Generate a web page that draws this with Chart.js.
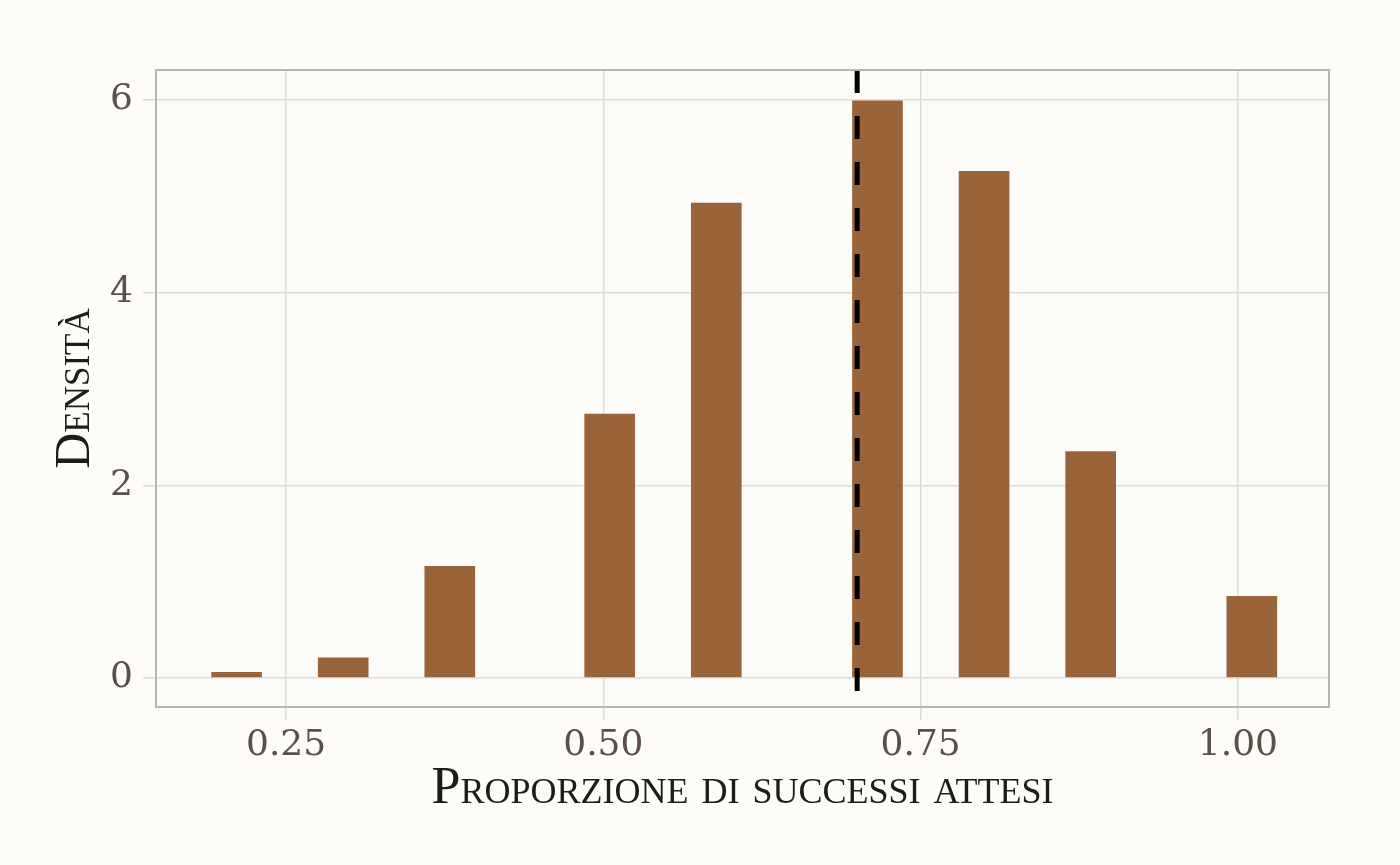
<!DOCTYPE html>
<html>
<head>
<meta charset="utf-8">
<script src="https://cdn.jsdelivr.net/npm/chart.js@4"></script>
<style>
  html, body { margin: 0; padding: 0; background: #fdfcf9; }
  #wrap { width: 1400px; height: 865px; }
</style>
</head>
<body>
<div id="wrap"><canvas id="histChart" width="1400" height="865"></canvas></div>
<script>
// bin centres (proportion) and density of each bar
const binCenters = [0.211, 0.295, 0.379, 0.505, 0.589, 0.716, 0.800, 0.884, 1.011];
const densities = [0.07, 0.22, 1.17, 2.75, 4.94, 6.0, 5.27, 2.36, 0.86];
const xTicks = [0.25, 0.5, 0.75, 1.0];
const yTicks = [0, 2, 4, 6];
const xRange = [0.1475, 1.0718];
const yRange = [-0.30, 6.31];
const refValue = 0.7;

const tickColor = "#5b5048";
const gridColor = "#dddbd7";
const serif = "'Liberation Serif', 'DejaVu Serif', serif";
const tickFont = "'DejaVu Serif', serif";

const ctx = document.getElementById("histChart").getContext("2d");

new Chart(ctx, {
  type: "bar",
  data: {
    datasets: [
      {
        label: "Densità",
        data: binCenters.map((x, i) => ({ x: x, y: densities[i] })),
        backgroundColor: "rgba(148, 90, 46, 0.94)",
        borderColor: "rgba(255, 255, 255, 0.35)",
        borderWidth: 1,
        barThickness: 52,
        order: 2,
      },
      {
        // dashed reference line, drawn top to bottom
        type: "line",
        label: "attesa",
        data: [
          { x: refValue, y: yRange[1] },
          { x: refValue, y: yRange[0] },
        ],
        borderColor: "#000000",
        borderWidth: 5,
        borderDash: [23, 23],
        pointRadius: 0,
        fill: false,
        order: 1,
      },
    ],
  },
  options: {
    responsive: false,
    animation: false,
    layout: { padding: { top: 70, right: 71, left: 46, bottom: 44 } },
    plugins: {
      legend: { display: false },
      tooltip: { enabled: false },
    },
    scales: {
      x: {
        type: "linear",
        offset: false,
        min: xRange[0],
        max: xRange[1],
        afterBuildTicks: (scale) => {
          scale.ticks = xTicks.map((v) => ({ value: v }));
        },
        afterFit: (scale) => {
          scale.height = 865 - 707 - 44;
        },
        ticks: {
          color: tickColor,
          padding: 4,
          font: { family: tickFont, size: 36 },
          callback: (v) => Number(v).toFixed(2),
          maxRotation: 0,
        },
        grid: { color: gridColor, lineWidth: 1.5, tickLength: 13, offset: false },
        border: { display: true, color: "#b8b6b2", width: 2 },
        title: {
          display: true,
          text: "Proporzione di successi attesi",
          color: "#1e1c1a",
          // small-caps slipped into the font shorthand
          font: { family: serif, size: 52, weight: "small-caps" },
          padding: { top: 0, bottom: 0 },
        },
      },
      y: {
        min: yRange[0],
        max: yRange[1],
        afterBuildTicks: (scale) => {
          scale.ticks = yTicks.map((v) => ({ value: v }));
        },
        afterFit: (scale) => {
          scale.width = 156 - 46;
        },
        ticks: {
          color: tickColor,
          padding: 10,
          font: { family: tickFont, size: 36 },
        },
        grid: { color: gridColor, lineWidth: 1.5, tickLength: 13 },
        border: { display: true, color: "#b8b6b2", width: 2 },
        title: {
          display: true,
          text: "Densità",
          color: "#1e1c1a",
          font: { family: serif, size: 50, weight: "small-caps" },
          padding: { top: 0, bottom: 0 },
        },
      },
    },
  },
  plugins: [
    {
      id: "panelFrame",
      beforeDraw: (chart) => {
        const c = chart.ctx;
        c.save();
        c.fillStyle = "#fdfcf9";
        c.fillRect(0, 0, chart.width, chart.height);
        c.restore();
      },
      afterDatasetsDraw: (chart) => {
        const a = chart.chartArea;
        const c = chart.ctx;
        c.save();
        c.strokeStyle = "#b8b6b2";
        c.lineWidth = 2;
        c.strokeRect(a.left, a.top, a.right - a.left, a.bottom - a.top);
        c.restore();
      },
    },
  ],
});
</script>
</body>
</html>
